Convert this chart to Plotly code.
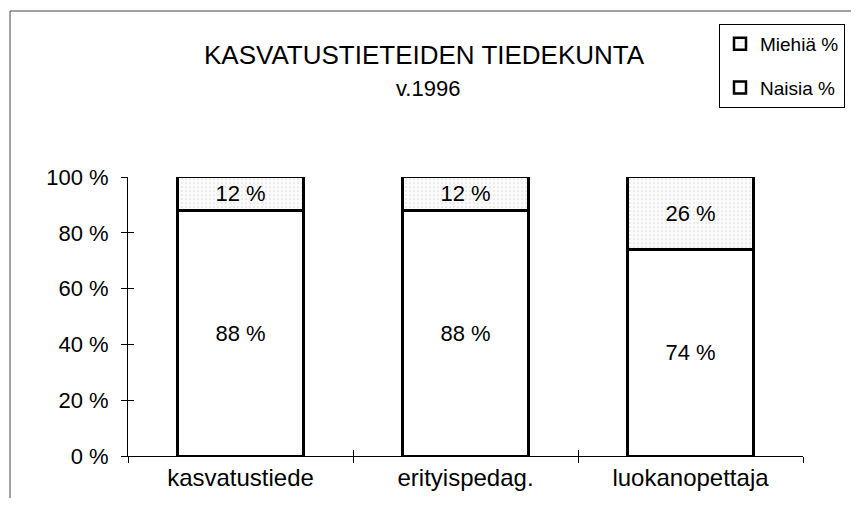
import plotly.graph_objects as go

categories = ["kasvatustiede", "erityispedag.", "luokanopettaja"]
naisia = [88, 88, 74]
miehia = [12, 12, 26]
y_ticks = [0, 20, 40, 60, 80, 100]
y_tick_text = ["0 %", "20 %", "40 %", "60 %", "80 %", "100 %"]
title_main = "KASVATUSTIETEIDEN TIEDEKUNTA"
title_sub = "v.1996"

FONT = "Liberation Sans, Arial, sans-serif"
OFF = 8  # default body margin of the page
W, H = 859 - 2 * OFF, 506 - 2 * OFF
# plot area in page pixels: x 128..803, y 177..456
L, R = 128 - OFF, W - (803 - OFF)
T, B = 177 - OFF, H - (456 - OFF)
pw, ph = W - L - R, H - T - B

def px_x(x):
    return (x - OFF - L) / pw

def px_y(y):
    return (H - B - (y - OFF)) / ph

fig = go.Figure()
fig.add_trace(go.Bar(
    x=categories, y=naisia, name="Naisia %", legendgroup="n", legendrank=2,
    marker=dict(color="white", line=dict(color="black", width=2.5)),
    width=0.56, text=[f"{v} %" for v in naisia], textposition="inside",
    insidetextanchor="middle", textangle=0,
    textfont=dict(family=FONT, size=22, color="black"),
))
fig.add_trace(go.Bar(
    x=categories, y=miehia, name="Miehiä %", legendgroup="m", legendrank=1,
    marker=dict(color="#f3f3f3", line=dict(color="black", width=2.5),
                pattern=dict(shape=".", fgcolor="#c0c0c0", bgcolor="#fbfbfb",
                             size=4, solidity=0.15)),
    width=0.56, text=[f"{v} %" for v in miehia], textposition="inside",
    insidetextanchor="middle", textangle=0,
    textfont=dict(family=FONT, size=22, color="black"),
))
# invisible helper trace for the inner half of the crossing ticks
fig.add_trace(go.Scatter(x=categories, y=[0, 0, 0], xaxis="x2", yaxis="y2",
                         mode="markers", marker=dict(opacity=0), showlegend=False,
                         hoverinfo="skip"))

fig.update_layout(
    width=W, height=H,
    margin=dict(l=L, r=R, t=T, b=B, autoexpand=False),
    barmode="stack",
    plot_bgcolor="white", paper_bgcolor="white",
    font=dict(family=FONT, size=20, color="black"),
    uniformtext=dict(minsize=18, mode="show"),
    xaxis=dict(type="category", categoryorder="array", categoryarray=categories,
               range=[-0.5, 2.5], showline=True, linecolor="black", linewidth=1,
               ticks="outside", ticklen=6, tickcolor="black", tickson="boundaries",
               showgrid=False, zeroline=False,
               tickfont=dict(family=FONT, size=24, color="black")),
    xaxis2=dict(type="category", categoryorder="array", categoryarray=categories,
                range=[-0.5, 2.5], overlaying="x", ticks="inside", ticklen=6,
                tickcolor="black", tickson="boundaries", showticklabels=False,
                showline=False, showgrid=False, zeroline=False),
    yaxis=dict(range=[0, 100], tickmode="array", tickvals=y_ticks, ticktext=y_tick_text,
               showline=True, linecolor="black", linewidth=1,
               ticks="outside", ticklen=6, tickcolor="black", ticklabelstandoff=8,
               showgrid=False, zeroline=False,
               tickfont=dict(family=FONT, size=22, color="black")),
    yaxis2=dict(range=[0, 100], tickmode="array", tickvals=y_ticks, overlaying="y",
                side="left", ticks="inside", ticklen=6, tickcolor="black",
                showticklabels=False, showline=False, showgrid=False, zeroline=False),
    legend=dict(x=px_x(845), xanchor="right", y=px_y(24), yanchor="top",
                bordercolor="black", borderwidth=1, bgcolor="white",
                traceorder="grouped", tracegroupgap=16,
                font=dict(family=FONT, size=19, color="black"),
                itemwidth=30),
    showlegend=True,
)

fig.add_annotation(text=title_main, x=px_x(424), y=px_y(55), xref="paper", yref="paper",
                   showarrow=False, xanchor="center", yanchor="middle",
                   font=dict(family=FONT, size=26, color="black"))
fig.add_annotation(text=title_sub, x=px_x(428), y=px_y(89), xref="paper", yref="paper",
                   showarrow=False, xanchor="center", yanchor="middle",
                   font=dict(family=FONT, size=22, color="black"))

fig.add_shape(type="rect", xref="paper", yref="paper",
              x0=px_x(10), x1=px_x(900), y0=px_y(560), y1=px_y(11),
              line=dict(color="#444444", width=1), layer="below")

fig.write_html("out.html")
